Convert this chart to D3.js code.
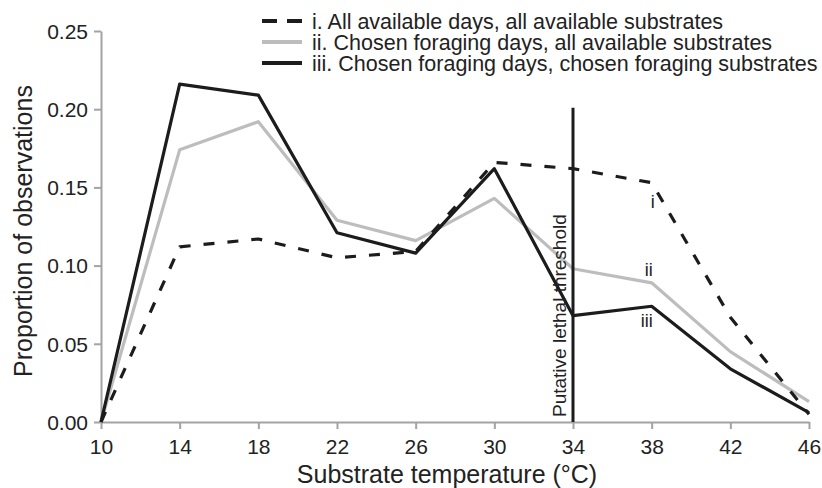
<!DOCTYPE html>
<html>
<head>
<meta charset="utf-8">
<script src="https://cdn.jsdelivr.net/npm/d3@7"></script>
<style>
  body { margin: 0; background: #fff; }
  svg { font-family: "Liberation Sans", Arial, sans-serif; }
  .axis path, .axis line { stroke: #a3a3a3; stroke-width: 2; }
  .axis text { fill: #222; font-size: 21px; }
</style>
</head>
<body>
<div id="chart"></div>
<script>
// Data
const temps = [10, 14, 18, 22, 26, 30, 34, 38, 42, 46]
const allDaysAllSub = [0, 0.112, 0.117, 0.105, 0.109, 0.166, 0.162, 0.153, 0.067, 0.005]
const chosenDaysAllSub = [0, 0.174, 0.192, 0.129, 0.116, 0.143, 0.098, 0.089, 0.045, 0.013]
const chosenDaysChosenSub = [0, 0.216, 0.209, 0.121, 0.108, 0.162, 0.068, 0.074, 0.034, 0.006]
const yTicks = [0, 0.05, 0.10, 0.15, 0.20, 0.25]
const legendLabels = [
    "i. All available days, all available substrates",
    "ii. Chosen foraging days, all available substrates",
    "iii. Chosen foraging days, chosen foraging substrates",
]
const thresholdTemp = 34
const thresholdTop = 0.201

// Dimensions
let dimensions = {
    width: 822,
    height: 488,
    margin: { top: 31, right: 13, bottom: 66, left: 101 },
}
dimensions.boundedWidth = dimensions.width - dimensions.margin.left - dimensions.margin.right
dimensions.boundedHeight = dimensions.height - dimensions.margin.top - dimensions.margin.bottom

const svg = d3.select("#chart").append("svg")
    .attr("width", dimensions.width)
    .attr("height", dimensions.height)
const bounds = svg.append("g")
    .attr("transform", `translate(${dimensions.margin.left},${dimensions.margin.top})`)

// Scales
const xScale = d3.scaleLinear()
    .domain([10, 46])
    .range([0, dimensions.boundedWidth])
const yScale = d3.scaleLinear()
    .domain([0, 0.25])
    .range([dimensions.boundedHeight, 0])

// Axes
const xAxis = bounds.append("g")
    .attr("class", "axis")
    .attr("transform", `translate(0,${dimensions.boundedHeight})`)
    .call(d3.axisBottom(xScale).tickValues(temps).tickSize(7).tickSizeOuter(0).tickPadding(10).tickFormat(d3.format("d")))
const yAxis = bounds.append("g")
    .attr("class", "axis")
    .call(d3.axisLeft(yScale).tickValues(yTicks).tickSize(7).tickSizeOuter(0).tickPadding(6).tickFormat(d3.format(".2f")))
yAxis.selectAll(".tick text").attr("dy", "0.35em")

xAxis.append("text")
    .attr("x", 346)
    .attr("y", 61)
    .attr("text-anchor", "middle")
    .style("font-size", "25px")
    .text("Substrate temperature (°C)")
yAxis.append("text")
    .attr("transform", "rotate(-90)")
    .attr("x", -200)
    .attr("y", -69)
    .attr("text-anchor", "middle")
    .style("font-size", "25px")
    .text("Proportion of observations")

// Lines
const series = [
    { values: allDaysAllSub, color: "#1c1c1c", dash: "11,13" },
    { values: chosenDaysAllSub, color: "#bdbdbd", dash: null },
    { values: chosenDaysChosenSub, color: "#1c1c1c", dash: null },
]
const lineGenerator = d3.line()
    .x((d, i) => xScale(temps[i]))
    .y(d => yScale(d))

const drawOrder = [1, 2, 0]
drawOrder.forEach(k => {
    bounds.append("path")
        .attr("d", lineGenerator(series[k].values))
        .attr("fill", "none")
        .attr("stroke", series[k].color)
        .attr("stroke-width", 3.2)
        .attr("stroke-linejoin", "round")
        .attr("stroke-dasharray", series[k].dash)
})

// Threshold
bounds.append("line")
    .attr("x1", xScale(thresholdTemp))
    .attr("x2", xScale(thresholdTemp))
    .attr("y1", yScale(0))
    .attr("y2", yScale(thresholdTop))
    .attr("stroke", "#1c1c1c")
    .attr("stroke-width", 3)
bounds.append("text")
    .attr("transform", `translate(${xScale(thresholdTemp) - 7},${yScale(0) - 5}) rotate(-90)`)
    .style("font-size", "19px")
    .attr("fill", "#222")
    .text("Putative lethal threshold")

// Series labels near 38
const seriesTags = [
    { text: "i", value: allDaysAllSub[7], dx: 1, dy: 25 },
    { text: "ii", value: chosenDaysAllSub[7], dx: -3, dy: -7 },
    { text: "iii", value: chosenDaysChosenSub[7], dx: -5, dy: 21 },
]
seriesTags.forEach(t => {
    bounds.append("text")
        .attr("x", xScale(38) + t.dx)
        .attr("y", yScale(t.value) + t.dy)
        .attr("text-anchor", "middle")
        .style("font-size", "18px")
        .attr("fill", "#222")
        .text(t.text)
})

// Legend
const legend = svg.append("g")
    .attr("transform", "translate(262,21)")
series.forEach((s, i) => {
    legend.append("line")
        .attr("x1", 0)
        .attr("x2", 40)
        .attr("y1", i * 21)
        .attr("y2", i * 21)
        .attr("stroke", s.color)
        .attr("stroke-width", 4)
        .attr("stroke-dasharray", s.dash ? "15,10" : null)
    legend.append("text")
        .attr("x", 50)
        .attr("y", i * 21)
        .attr("dy", "0.35em")
        .style("font-size", "21.5px")
        .attr("fill", "#222")
        .text(legendLabels[i])
})
</script>
</body>
</html>
